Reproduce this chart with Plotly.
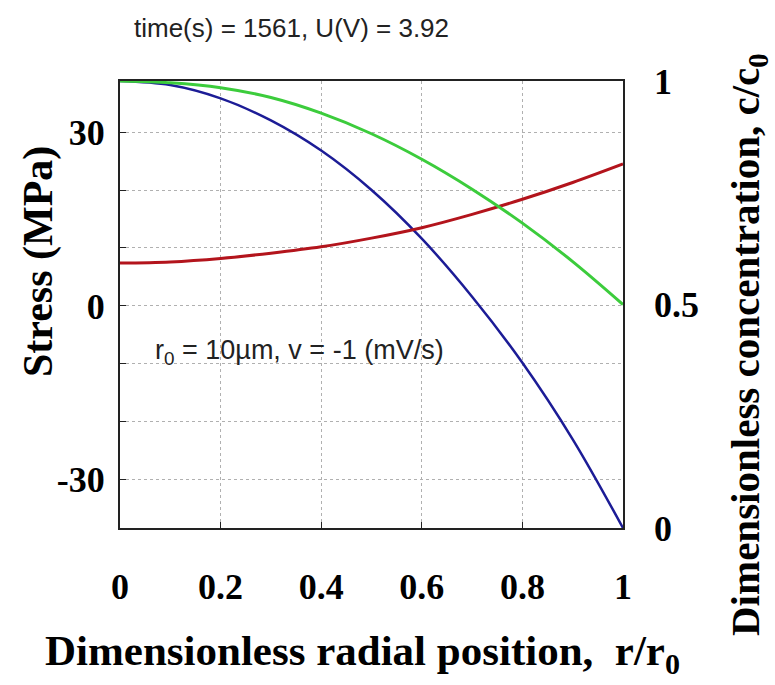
import plotly.graph_objects as go

# Data
r_pos = [0.0, 0.1, 0.2, 0.3, 0.4, 0.5, 0.6, 0.7, 0.8, 0.9, 1.0]
stress_blue = [38.8, 38.1, 35.8, 32.0, 26.8, 20.0, 11.6, 1.6, -9.8, -23.0, -38.3]
stress_red = [7.4, 7.6, 8.2, 9.1, 10.2, 11.7, 13.5, 15.8, 18.4, 21.3, 24.5]
conc_green = [1.0, 0.996, 0.985, 0.963, 0.928, 0.882, 0.825, 0.758, 0.682, 0.596, 0.5]

x_ticks = [0, 0.2, 0.4, 0.6, 0.8, 1]
x_ticktext = ["0", "0.2", "0.4", "0.6", "0.8", "1"]
y_ticks = [-30, 0, 30]
y_ticktext = ["-30", "0", "30"]
y2_ticks = [0, 0.5, 1]
y2_ticktext = ["0", "0.5", "1"]

W, H = 775, 685
L, R, T, B = 120, 152, 81, 157
pw, ph = W - L - R, H - T - B

def px(xp):
    return (xp - L) / pw

def py(yp):
    return (H - B - yp) / ph

serif = "Liberation Serif"
sans = "Liberation Sans"
tickfont = dict(family=serif, size=36, color="black", weight="bold")

fig = go.Figure()
fig.add_trace(go.Scatter(x=r_pos, y=stress_blue, mode="lines", line=dict(color="#1c1c96", width=2.5, shape="spline"), yaxis="y"))
fig.add_trace(go.Scatter(x=r_pos, y=stress_red, mode="lines", line=dict(color="#b3141c", width=3, shape="spline"), yaxis="y"))
fig.add_trace(go.Scatter(x=r_pos, y=conc_green, mode="lines", line=dict(color="#3ccc3c", width=3, shape="spline"), yaxis="y2"))

fig.update_layout(
    width=W, height=H,
    margin=dict(l=L, r=R, t=T, b=B),
    paper_bgcolor="white", plot_bgcolor="white",
    showlegend=False,
    xaxis=dict(range=[0, 1], tickvals=x_ticks, ticktext=x_ticktext,
               ticks="inside", ticklen=6, tickcolor="#222",
               showline=True, mirror=True, linecolor="#222", linewidth=2,
               showgrid=True, gridcolor="#b0b0b0", griddash="dot", gridwidth=1,
               zeroline=False, ticklabelstandoff=26,
               tickfont=tickfont),
    yaxis=dict(range=[-38.3, 38.8], tickvals=y_ticks, ticktext=y_ticktext,
               ticks="inside", ticklen=6, tickcolor="#222",
               minor=dict(tick0=0, dtick=10, ticks="inside", ticklen=6, tickcolor="#222",
                          showgrid=True, gridcolor="#b0b0b0", griddash="dot", gridwidth=1),
               showline=True, mirror=True, linecolor="#222", linewidth=2,
               showgrid=True, gridcolor="#b0b0b0", griddash="dot", gridwidth=1,
               zeroline=False, ticklabelstandoff=6,
               tickfont=tickfont),
    yaxis2=dict(range=[0, 1], overlaying="y", side="right", anchor="x",
                tickvals=y2_ticks, ticktext=y2_ticktext,
                ticks="", showgrid=False, zeroline=False, showline=False,
                ticklabelstandoff=30,
                tickfont=tickfont),
)

annotations = [
    dict(text="time(s) = 1561, U(V) = 3.92", x=px(291), y=py(28), xref="paper", yref="paper",
         showarrow=False, font=dict(family=sans, size=26, color="#222"), xanchor="center", yanchor="middle"),
    dict(text="r<sub>0</sub> = 10\u00b5m, v = -1 (mV/s)", x=px(153), y=py(352), xref="paper", yref="paper",
         showarrow=False, font=dict(family=sans, size=27, color="#222"), xanchor="left", yanchor="middle"),
    dict(text="Stress (MPa)", x=px(38), y=py(262), xref="paper", yref="paper", textangle=-90,
         showarrow=False, font=dict(family=serif, size=42, color="black", weight="bold"), xanchor="center", yanchor="middle"),
    dict(text="Dimensionless radial position,\u00a0\u00a0r/r<sub>0</sub>", x=px(362), y=py(654), xref="paper", yref="paper",
         showarrow=False, font=dict(family=serif, size=43, color="black", weight="bold"), xanchor="center", yanchor="middle"),
    dict(text="Dimensionless concentration, c/c<sub>0</sub>", x=px(748), y=py(345), xref="paper", yref="paper", textangle=-90,
         showarrow=False, font=dict(family=serif, size=41, color="black", weight="bold"), xanchor="center", yanchor="middle"),
]
fig.update_layout(annotations=annotations)

fig.write_html("out.html")
